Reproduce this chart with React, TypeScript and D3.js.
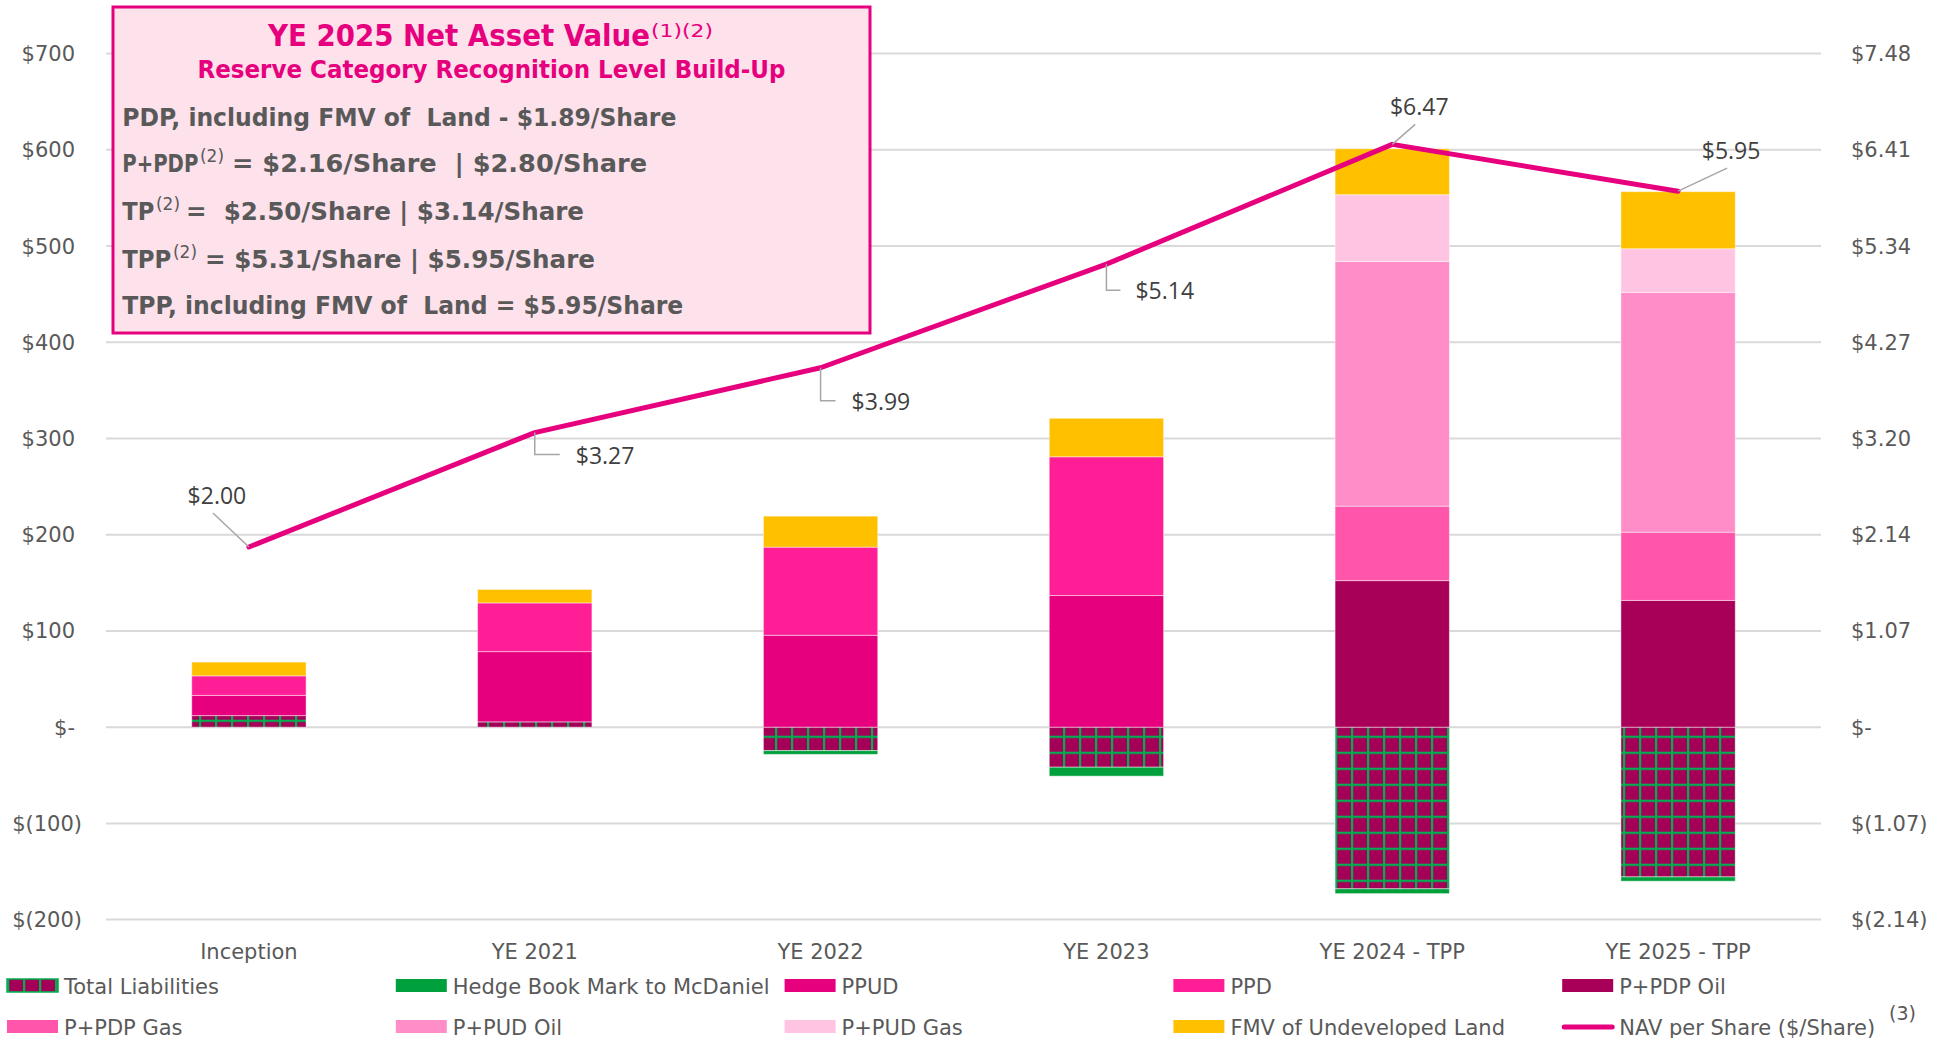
import React from "react";
import * as d3 from "d3";

const categories = ["Inception", "YE 2021", "YE 2022", "YE 2023", "YE 2024 - TPP", "YE 2025 - TPP"];
const totalLiabilities = [12, 5.5, -24.4, -41.6, -168, -155.6];
const hedgeBook = [0, 0, -3.9, -9.3, -5, -4.5];
const pdpOil = [0, 0, 0, 0, 152.3, 131.7];
const pdpGas = [0, 0, 0, 0, 77.4, 70.9];
const pudOil = [0, 0, 0, 0, 254.3, 249.2];
const pudGas = [0, 0, 0, 0, 69.4, 45.4];
const ppud = [21, 73, 95.5, 136.8, 0, 0];
const ppd = [20.3, 50.6, 91.6, 144.2, 0, 0];
const fmvLand = [14.3, 14, 32.2, 40, 47.7, 59.3];
const navPerShare = [2.0, 3.27, 3.99, 5.14, 6.47, 5.95];
const leftTicks = [700, 600, 500, 400, 300, 200, 100, 0, -100, -200];
const rightMax = 7.4775;

const seriesNames = [
  "Total Liabilities",
  "Hedge Book Mark to McDaniel",
  "P+PDP Oil",
  "P+PDP Gas",
  "P+PUD Oil",
  "P+PUD Gas",
  "PPUD",
  "PPD",
  "FMV of Undeveloped Land",
];
const seriesValues = [totalLiabilities, hedgeBook, pdpOil, pdpGas, pudOil, pudGas, ppud, ppd, fmvLand];
const seriesColors: Record<string, string> = {
  "Total Liabilities": "url(#liabPattern)",
  "Hedge Book Mark to McDaniel": "#00A03C",
  "P+PDP Oil": "#A80058",
  "P+PDP Gas": "#FF55AA",
  "P+PUD Oil": "#FF8DC8",
  "P+PUD Gas": "#FFC4E2",
  PPUD: "#E6007E",
  PPD: "#FF1E96",
  "FMV of Undeveloped Land": "#FFC000",
};

// legend order (row-major, 5 columns)
const legendItems = [
  "Total Liabilities",
  "Hedge Book Mark to McDaniel",
  "PPUD",
  "PPD",
  "P+PDP Oil",
  "P+PDP Gas",
  "P+PUD Oil",
  "P+PUD Gas",
  "FMV of Undeveloped Land",
  "NAV per Share ($/Share)",
];

// label placement per point: [type, a, b, c]
// elbow: a = vertical drop, b = horizontal run, c = text start offset
// diag: a = dx, b = dy
const labelStyle: [string, number, number, number][] = [
  ["diag", -36, -34, 0],
  ["elbow", 22, 25, 41],
  ["elbow", 33, 15, 31],
  ["elbow", 26, 14, 29],
  ["diag", 23, -20, 0],
  ["diag", 49, -23, 0],
];

const W = 1946;
const H = 1038;
const PINK = "#E6007E";
const GREY = "#595959";

export default function App() {
  const x = d3.scaleBand<string>().domain(categories).range([106, 1821]).paddingInner(0.6).paddingOuter(0.3);
  const y = d3.scaleLinear().domain([-200, 700]).range([919.6, 53.6]);
  const k = rightMax / 700;
  const yR = d3.scaleLinear().domain([-200 * k, 700 * k]).range([919.6, 53.6]);

  const rows = categories.map((c, i) => {
    const o: Record<string, any> = { cat: c };
    seriesNames.forEach((s, j) => (o[s] = seriesValues[j][i]));
    return o;
  });
  const stack = d3.stack<any>().keys(seriesNames).offset(d3.stackOffsetDiverging);
  const stacked = stack(rows);

  const line = d3
    .line<number>()
    .x((_, i) => (x(categories[i]) as number) + x.bandwidth() / 2)
    .y((d) => yR(d));

  const fmtLeft = (v: number) => (v === 0 ? "$-" : v < 0 ? `$(${Math.abs(v)})` : `$${v}`);
  const fmtRight = (v: number) =>
    Math.abs(v) < 1e-9 ? "$-" : v < 0 ? `$(${Math.abs(v).toFixed(2)})` : `$${v.toFixed(2)}`;

  const axisFont = "'DejaVu Sans', Verdana, sans-serif";
  const boxFont = "'DejaVu Sans Condensed', 'DejaVu Sans', sans-serif";
  const pre = { whiteSpace: "pre" as const };

  return (
    <svg width={W} height={H} style={{ position: "absolute", left: 0, top: 0, background: "#fff" }}>
      <defs>
        <pattern id="liabPattern" patternUnits="userSpaceOnUse" x={0} y={-0.3} width={16} height={16}>
          <rect width={16} height={16} fill="#A50057" />
          <rect x={7} y={0} width={2.2} height={16} fill="#00B04F" />
          <rect x={0} y={0} width={16} height={2.2} fill="#00B04F" />
        </pattern>
      </defs>

      {/* gridlines */}
      {leftTicks.map((t) => (
        <line key={t} x1={106} x2={1821} y1={y(t)} y2={y(t)} stroke="#D9D9D9" strokeWidth={2} />
      ))}

      {/* left axis labels */}
      {leftTicks.map((t) => (
        <text
          key={"l" + t}
          x={t < 0 ? 82 : 75}
          y={y(t)}
          dy="0.36em"
          textAnchor="end"
          fontFamily={axisFont}
          fontSize={21}
          fill={GREY}
        >
          {fmtLeft(t)}
        </text>
      ))}

      {/* right axis labels */}
      {leftTicks.map((t) => (
        <text key={"r" + t} x={1851} y={y(t)} dy="0.36em" fontFamily={axisFont} fontSize={21} fill={GREY}>
          {fmtRight(t * k)}
        </text>
      ))}

      {/* bars */}
      {stacked.map((s) => (
        <g key={s.key} fill={seriesColors[s.key]}>
          {s.map((d, i) => {
            const h = Math.abs(y(d[0]) - y(d[1]));
            if (h < 0.01) return null;
            return (
              <rect
                key={i}
                x={x(categories[i])}
                width={x.bandwidth()}
                y={Math.min(y(d[0]), y(d[1]))}
                height={h}
                stroke="rgba(255,255,255,0.45)"
                strokeWidth={1}
              />
            );
          })}
        </g>
      ))}

      {/* category labels */}
      {categories.map((c) => (
        <text
          key={c}
          x={(x(c) as number) + x.bandwidth() / 2}
          y={959}
          textAnchor="middle"
          fontFamily={axisFont}
          fontSize={21}
          fill={GREY}
        >
          {c}
        </text>
      ))}

      {/* NAV line */}
      <path d={line(navPerShare) || ""} fill="none" stroke={PINK} strokeWidth={5} strokeLinejoin="round" strokeLinecap="round" />

      {/* data labels */}
      {navPerShare.map((v, i) => {
        const px = (x(categories[i]) as number) + x.bandwidth() / 2;
        const py = yR(v);
        const [type, a, b, c] = labelStyle[i];
        const txt = `$${v.toFixed(2)}`;
        const lblProps = { fontFamily: "'Open Sans', 'Noto Sans', sans-serif", fontSize: 23, fill: "#404040" };
        if (type === "elbow") {
          return (
            <g key={i}>
              <polyline
                points={`${px},${py} ${px},${py + a} ${px + b},${py + a}`}
                fill="none"
                stroke="#A6A6A6"
                strokeWidth={1.5}
              />
              <text x={px + c} y={py + a + 9} {...lblProps}>
                {txt}
              </text>
            </g>
          );
        }
        return (
          <g key={i}>
            <line x1={px} y1={py} x2={px + a} y2={py + b} stroke="#A6A6A6" strokeWidth={1.5} />
            <text x={px + a + 4} y={py + b - 9} textAnchor="middle" {...lblProps}>
              {txt}
            </text>
          </g>
        );
      })}

      {/* title box */}
      <rect x={113} y={7} width={757} height={326} fill="#FDE1EB" stroke={PINK} strokeWidth={3} />
      <g fontFamily={boxFont} fontWeight="bold" style={pre}>
        <text x={268} y={46} fontSize={30} fill={PINK} textLength={382} lengthAdjust="spacingAndGlyphs">
          YE 2025 Net Asset Value
        </text>
        <text x={651} y={37} fontSize={18} fontWeight="normal" fill={PINK} textLength={62} lengthAdjust="spacingAndGlyphs">
          (1)(2)
        </text>
        <text x={197.5} y={78.3} fontSize={24} fill={PINK} textLength={588} lengthAdjust="spacingAndGlyphs">
          Reserve Category Recognition Level Build-Up
        </text>

        <text x={122.3} y={126} fontSize={24} fill={GREY} textLength={554} lengthAdjust="spacingAndGlyphs" style={pre}>
          {"PDP, including FMV of  Land - $1.89/Share"}
        </text>

        <text x={122.3} y={172.3} fontSize={24} fill={GREY} textLength={76} lengthAdjust="spacingAndGlyphs">
          P+PDP
        </text>
        <text x={200} y={162} fontSize={17} fontWeight="normal" fill={GREY} textLength={24} lengthAdjust="spacingAndGlyphs">
          (2)
        </text>
        <text x={232} y={172.3} fontSize={24} fill={GREY} textLength={415} lengthAdjust="spacingAndGlyphs" style={pre}>
          {"= $2.16/Share  | $2.80/Share"}
        </text>

        <text x={122.3} y={220} fontSize={24} fill={GREY} textLength={32} lengthAdjust="spacingAndGlyphs">
          TP
        </text>
        <text x={156} y={210} fontSize={17} fontWeight="normal" fill={GREY} textLength={24} lengthAdjust="spacingAndGlyphs">
          (2)
        </text>
        <text x={186} y={220} fontSize={24} fill={GREY} textLength={398} lengthAdjust="spacingAndGlyphs" style={pre}>
          {"=  $2.50/Share | $3.14/Share"}
        </text>

        <text x={122.3} y={267.7} fontSize={24} fill={GREY} textLength={49} lengthAdjust="spacingAndGlyphs">
          TPP
        </text>
        <text x={173} y={257.7} fontSize={17} fontWeight="normal" fill={GREY} textLength={24} lengthAdjust="spacingAndGlyphs">
          (2)
        </text>
        <text x={205} y={267.7} fontSize={24} fill={GREY} textLength={390} lengthAdjust="spacingAndGlyphs" style={pre}>
          {"= $5.31/Share | $5.95/Share"}
        </text>

        <text x={122.3} y={314.3} fontSize={24} fill={GREY} textLength={561} lengthAdjust="spacingAndGlyphs" style={pre}>
          {"TPP, including FMV of  Land = $5.95/Share"}
        </text>
      </g>

      {/* legend */}
      {legendItems.map((name, i) => {
        const col = i % 5;
        const row = Math.floor(i / 5);
        const lx = 7 + col * 388.8;
        const ly = row === 0 ? 979 : 1020;
        const isLine = name.startsWith("NAV");
        return (
          <g key={name}>
            {isLine ? (
              <line x1={lx + 2} x2={lx + 50} y1={ly + 7} y2={ly + 7} stroke={PINK} strokeWidth={5} strokeLinecap="round" />
            ) : (
              <rect
                x={lx}
                y={ly}
                width={51}
                height={13}
                fill={seriesColors[name]}
                stroke={name === "Total Liabilities" ? "#00B04F" : "none"}
                strokeWidth={1.5}
              />
            )}
            <text x={lx + 57} y={ly + 15} fontFamily={axisFont} fontSize={21} fill={GREY}>
              {name}
            </text>
            {isLine && (
              <text x={1889} y={ly} fontFamily={axisFont} fontSize={19} fill={GREY}>
                (3)
              </text>
            )}
          </g>
        );
      })}
    </svg>
  );
}
